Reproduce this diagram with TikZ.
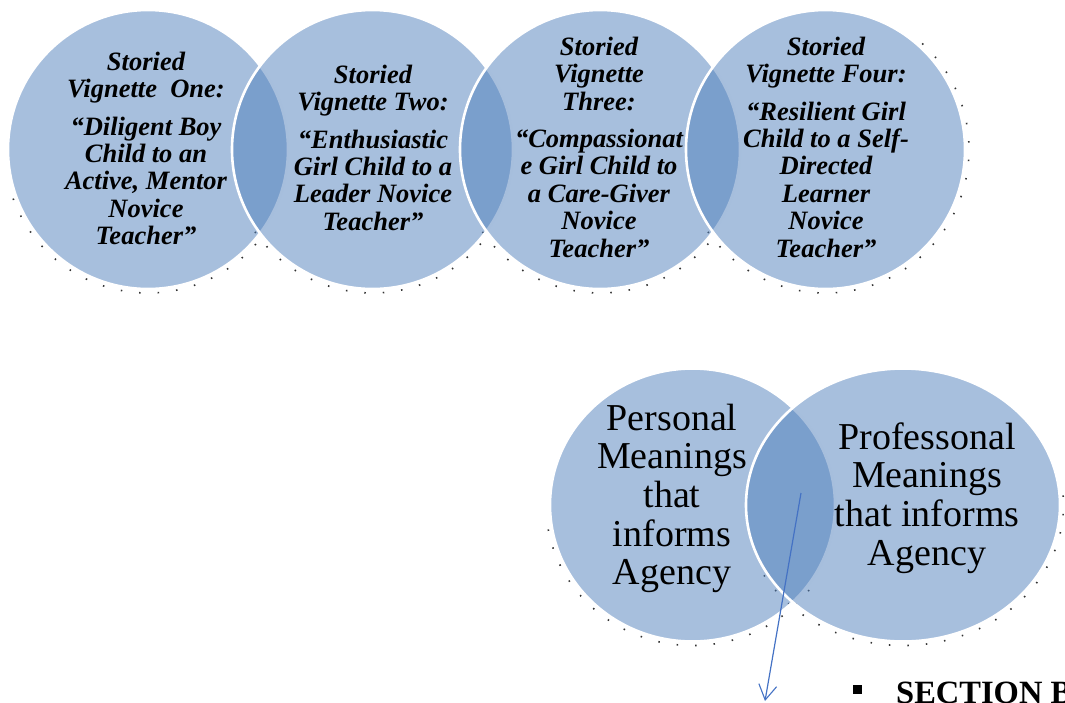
\documentclass[tikz,border=0pt]{standalone}
\usepackage{fontspec}
\setmainfont{Liberation Serif}
\usetikzlibrary{shapes.geometric,arrows.meta}
\definecolor{accent}{HTML}{4F7FBB}
\definecolor{arrowblue}{HTML}{4472C4}
\tikzset{
  venn/.style={ellipse, inner sep=0pt, fill=accent, fill opacity=0.5, draw=white, line width=2.6pt},
  vigtext/.style={anchor=north, align=center, inner sep=0pt, font=\bfseries\itshape\fontsize{26.5}{27.4}\selectfont},
  meantext/.style={anchor=north, align=center, inner sep=0pt, font=\fontsize{38}{38.6}\selectfont},
  shadowdots/.style={draw=black!80, line width=1.6pt, dash pattern=on 1.5pt off 17pt},
  linkarrow/.style={draw=arrowblue, line width=1.2pt, -{Straight Barb[length=15pt,width=18pt,line width=1.1pt]}}
}
\begin{document}
\begin{tikzpicture}[x=1pt,y=-1pt]
\useasboundingbox (0,0) rectangle (1065,702);
\clip (0,0) rectangle (1065,702);
% shadow specks (y axis points down, so angles run clockwise)
\draw[shadowdots] (148,149.5) ++(160:143.5) arc[start angle=160, end angle=35, radius=143.5];
\draw[shadowdots] (372.5,149.5) ++(145:143.5) arc[start angle=145, end angle=35, radius=143.5];
\draw[shadowdots] (600,149.5) ++(145:143.5) arc[start angle=145, end angle=35, radius=143.5];
\draw[shadowdots] (825.5,149.5) ++(145:143.5) arc[start angle=145, end angle=-50, radius=143.5];
\draw[shadowdots] (692.5,505) ++(170:146.5 and 140.5) arc[start angle=170, end angle=35, x radius=146.5, y radius=140.5];
\draw[shadowdots] (903,505) ++(150:160.5 and 140.5) arc[start angle=150, end angle=-10, x radius=160.5, y radius=140.5];
% top circles
\node[venn, minimum width=280pt, minimum height=279pt] (c1) at (148,149.5) {};
\node[venn, minimum width=281pt, minimum height=279pt] (c2) at (372.5,149.5) {};
\node[venn, minimum width=280pt, minimum height=279pt] (c3) at (600,149.5) {};
\node[venn, minimum width=279pt, minimum height=279pt] (c4) at (825.5,149.5) {};
% bottom circles
\node[venn, minimum width=285pt, minimum height=273pt] (p1) at (692.5,505) {};
\node[venn, minimum width=314pt, minimum height=273pt] (p2) at (903,505) {};
% texts
\node[vigtext] (t1) at (146,50) {\rule{0pt}{20pt}Storied\\Vignette\ \ One:\\[10pt]\rule{0pt}{20pt}“Diligent Boy\\Child to an\\Active, Mentor\\Novice\\Teacher”};
\node[vigtext] (t2) at (373,63) {\rule{0pt}{20pt}Storied\\Vignette Two:\\[10pt]\rule{0pt}{20pt}“Enthusiastic\\Girl Child to a\\Leader Novice\\Teacher”};
\node[vigtext] (t3) at (599,35) {\rule{0pt}{20pt}Storied\\Vignette\\Three:\\[10pt]\rule{0pt}{20pt}“Compassionat\\e Girl Child to\\a Care-Giver\\Novice\\Teacher”};
\node[vigtext] (t4) at (826,35) {\rule{0pt}{20pt}Storied\\Vignette Four:\\[10pt]\rule{0pt}{20pt}“Resilient Girl\\Child to a Self-\\Directed\\Learner\\Novice\\Teacher”};
\node[meantext] (tp1) at (672,400) {\rule{0pt}{30pt}Personal\\Meanings\\that\\informs\\Agency};
\node[meantext] (tp2) at (927,419) {\rule{0pt}{30pt}Professonal\\Meanings\\that informs\\Agency};
% arrow
\coordinate (arrowstart) at (801,493);
\coordinate (arrowend) at (765,701);
\draw[linkarrow] (arrowstart) -- (arrowend);
% section B
\node[fill=black, minimum size=9pt, inner sep=0pt] (bullet) at (857,689) {};
\node[anchor=base west, inner sep=0pt, font=\bfseries\fontsize{32.5}{32.5}\selectfont] (secb) at (896,703) {SECTION B};
\end{tikzpicture}
\end{document}
